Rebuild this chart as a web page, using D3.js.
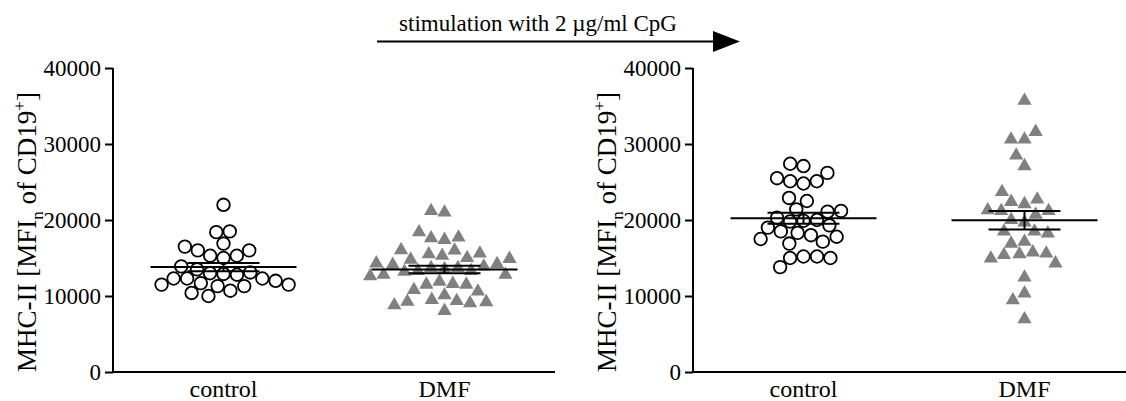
<!DOCTYPE html>
<html>
<head>
<meta charset="utf-8">
<script src="https://cdn.jsdelivr.net/npm/d3@7"></script>
<style>
  body { margin: 0; background: #fff; }
</style>
</head>
<body>
<svg id="chart" width="1126" height="401"></svg>
<script>
// groups on the x axis of each panel
var categories = ["control", "DMF"];
var yTicks = [0, 10000, 20000, 30000, 40000];

// unstimulated (left panel)
var leftControl = [22000, 18500, 18400, 16900, 16000, 15300, 15000, 15300, 16000, 16500,
  13500, 13900, 13000, 12800, 12300, 12300, 12300, 12900, 13100,
  12000, 11500, 11300, 11300, 11500, 11700, 10700, 10400, 10000];
var leftDMF = [21200, 21000, 17700, 17400, 17600, 18400,
  16050, 15600, 15300, 14900, 14800, 15000, 15500, 16000,
  14200, 13900, 13700, 13300, 13200, 12800, 12800, 13300, 13550, 13700, 14100, 14300,
  11900, 11500, 10800, 10600, 11500, 11600, 12600,
  9500, 9250, 9050, 8050, 8800, 9200, 9350, 10100];

// stimulated with CpG (right panel)
var rightControl = [27400, 27100, 26200, 25100, 24800, 25100, 25500, 22900, 22500,
  21200, 20300, 19900, 19300, 19800, 20000, 21100, 21400,
  19000, 18300, 17800, 17150, 16900, 17500, 18000, 18500,
  15200, 15000, 13800, 15000, 15200];
var rightDMF = [35700, 31600, 30600, 30600, 28500, 27100, 23700,
  22700, 22100, 22400, 21300, 21200, 21200, 20000, 19700, 20700,
  18500, 18250, 18500, 16900, 17150, 15600, 15400, 15500, 15750,
  14300, 14950, 12450, 10350, 9450, 6950];

var panels = [
  { x0: 113, series: [leftControl, leftDMF] },
  { x0: 693, series: [rightControl, rightDMF] }
];

var FONT = "'Liberation Serif', 'Times New Roman', serif";
var svg = d3.select("#chart").style("font-family", FONT);
var yTop = 68, yBottom = 372, panelWidth = 442;

var y = d3.scaleLinear().domain([0, 40000]).range([yBottom, yTop]);

// simple beeswarm: smallest horizontal offset that does not overlap placed marks
function swarm(values, d) {
  var pts = values.map(function(v, i) { return { i: i, y: y(v) }; });
  var med = d3.median(pts, function(p) { return p.y; });
  pts.sort(function(a, b) { return Math.abs(a.y - med) - Math.abs(b.y - med); });
  var placed = [];
  pts.forEach(function(p) {
    var spans = [];
    placed.forEach(function(q) {
      var dy = Math.abs(q.y - p.y);
      if (dy < d) {
        var w = Math.sqrt(d * d - dy * dy);
        spans.push([q.x - w, q.x + w]);
      }
    });
    var cands = [0];
    spans.forEach(function(s) { cands.push(s[0], s[1]); });
    cands.sort(function(a, b) { return Math.abs(a) - Math.abs(b); });
    p.x = cands.find(function(c) {
      return spans.every(function(s) { return c <= s[0] + 1e-6 || c >= s[1] - 1e-6; });
    });
    placed.push(p);
  });
  var out = [];
  pts.forEach(function(p) { out[p.i] = p.x; });
  return out;
}

var tri = d3.symbol().type(d3.symbolTriangle).size(88);

panels.forEach(function(panel) {
  var g = svg.append("g");
  var x = d3.scalePoint().domain(categories).range([panel.x0, panel.x0 + panelWidth]).padding(0.5);

  // axes
  var ya = g.append("g")
    .attr("transform", "translate(" + panel.x0 + ",0)")
    .call(d3.axisLeft(y).tickValues(yTicks).tickSize(8).tickPadding(4).tickFormat(d3.format("d")));
  ya.attr("font-family", null).attr("font-size", null);
  ya.select(".domain").attr("stroke-width", 2).attr("d", "M0," + yTop + "V" + yBottom);
  ya.selectAll(".tick line").attr("stroke-width", 2);
  ya.selectAll(".tick text").style("font-size", "23px").style("font-family", FONT);

  g.append("line")
    .attr("x1", panel.x0).attr("x2", panel.x0 + panelWidth)
    .attr("y1", yBottom).attr("y2", yBottom)
    .attr("stroke", "#000").attr("stroke-width", 2);

  categories.forEach(function(c) {
    g.append("text")
      .attr("x", x(c)).attr("y", 397)
      .attr("text-anchor", "middle")
      .style("font-family", FONT)
      .style("font-size", "24px")
      .text(c);
  });

  // y label
  var lab = g.append("text")
    .attr("transform", "translate(" + (panel.x0 - 77) + "," + ((yTop + yBottom) / 2 + 12) + ") rotate(-90)")
    .attr("text-anchor", "middle")
    .style("font-family", FONT)
    .style("font-size", "27px");
  lab.append("tspan").text("MHC-II [MFI");
  lab.append("tspan").attr("dy", 7).style("font-size", "17px").text("n");
  lab.append("tspan").attr("dy", -7).text(" of CD19");
  lab.append("tspan").attr("dy", -11).style("font-size", "17px").text("+");
  lab.append("tspan").attr("dy", 11).text("]");

  panel.series.forEach(function(vals, si) {
    var cx = x(categories[si]);
    var offs = swarm(vals, 13.5);
    if (si === 0) {
      g.selectAll(null).data(vals).enter().append("circle")
        .attr("cx", function(d, i) { return cx + offs[i]; })
        .attr("cy", function(d) { return y(d); })
        .attr("r", 6.3)
        .attr("fill", "#fff")
        .attr("stroke", "#000")
        .attr("stroke-width", 1.8);
    } else {
      g.selectAll(null).data(vals).enter().append("path")
        .attr("d", tri)
        .attr("transform", function(d, i) { return "translate(" + (cx + offs[i]) + "," + y(d) + ")"; })
        .attr("fill", "#808080");
    }

    // mean and SEM
    var m = d3.mean(vals);
    var sem = d3.deviation(vals) / Math.sqrt(vals.length);
    var eb = g.append("g").attr("stroke", "#000").attr("stroke-width", 2);
    eb.append("line").attr("x1", cx - 73).attr("x2", cx + 73).attr("y1", y(m)).attr("y2", y(m));
    eb.append("line").attr("x1", cx - 36).attr("x2", cx + 36).attr("y1", y(m + sem)).attr("y2", y(m + sem));
    eb.append("line").attr("x1", cx - 36).attr("x2", cx + 36).attr("y1", y(m - sem)).attr("y2", y(m - sem));
    eb.append("line").attr("x1", cx).attr("x2", cx).attr("y1", y(m + sem)).attr("y2", y(m - sem));
  });
});

// stimulation arrow
svg.append("line")
  .attr("x1", 377).attr("x2", 716).attr("y1", 41.5).attr("y2", 41.5)
  .attr("stroke", "#000").attr("stroke-width", 2);
svg.append("path")
  .attr("d", d3.line()([[713, 31], [740, 41.5], [713, 52]]) + "Z")
  .attr("fill", "#000");
svg.append("text")
  .attr("x", 538).attr("y", 31)
  .attr("text-anchor", "middle")
  .style("font-family", FONT)
  .style("font-size", "23px")
  .text("stimulation with 2 \u00b5g/ml  CpG");
</script>
</body>
</html>
